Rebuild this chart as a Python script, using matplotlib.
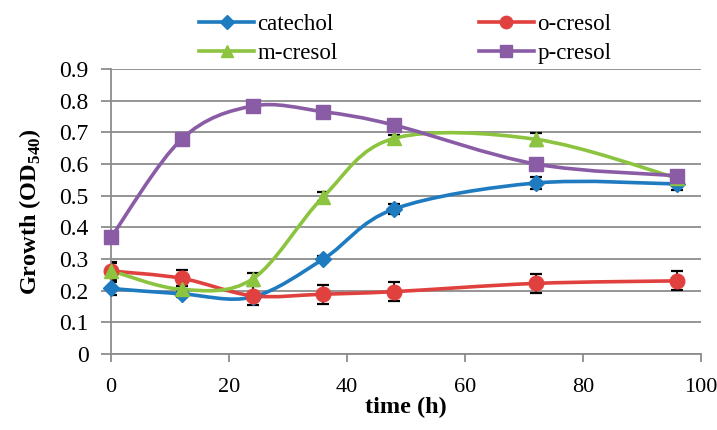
import matplotlib
matplotlib.use("Agg")
import matplotlib.pyplot as plt
from matplotlib.path import Path
from matplotlib.patches import PathPatch
from matplotlib.lines import Line2D
import numpy as np

plt.rcParams['font.family'] = ['Liberation Serif', 'DejaVu Serif']
plt.rcParams['mathtext.fontset'] = 'custom'
plt.rcParams['mathtext.rm'] = 'Liberation Serif'
plt.rcParams['mathtext.bf'] = 'Liberation Serif:bold'

time_h = [0, 12, 24, 36, 48, 72, 96]
series_names = ['catechol', 'o-cresol', 'm-cresol', 'p-cresol']
catechol = [0.207, 0.190, 0.180, 0.300, 0.458, 0.540, 0.537]
o_cresol = [0.262, 0.239, 0.184, 0.189, 0.197, 0.223, 0.231]
m_cresol = [0.263, 0.204, 0.237, 0.497, 0.681, 0.678, 0.555]
p_cresol = [0.368, 0.679, 0.783, 0.765, 0.723, 0.600, 0.563]
catechol_err = [0.02, 0.01, 0.01, 0.01, 0.017, 0.02, 0.02]
o_cresol_err = [0.03, 0.025, 0.03, 0.03, 0.03, 0.03, 0.03]
m_cresol_err = [0.025, 0.01, 0.02, 0.015, 0.01, 0.02, 0.01]
p_cresol_err = [0.01, 0.01, 0.015, 0.01, 0.01, 0.01, 0.01]

values = [catechol, o_cresol, m_cresol, p_cresol]
errors = [catechol_err, o_cresol_err, m_cresol_err, p_cresol_err]
colors = ['#1f7bc0', '#e0413f', '#8cc440', '#8a5ca6']
markers = ['D', 'o', '^', 's']
msizes = [8.5, 10.5, 10, 9.5]


def smooth_path(x, y):
    pts = np.column_stack([x, y]).astype(float)
    n = len(pts)
    verts = [pts[0]]
    codes = [Path.MOVETO]
    for i in range(n - 1):
        p0 = pts[i - 1] if i > 0 else pts[i]
        p1 = pts[i]
        p2 = pts[i + 1]
        p3 = pts[i + 2] if i + 2 < n else pts[i + 1]
        c1 = p1 + (p2 - p0) / 6.0
        c2 = p2 - (p3 - p1) / 6.0
        verts += [c1, c2, p2]
        codes += [Path.CURVE4] * 3
    return Path(verts, codes)


fig = plt.figure(figsize=(7.17, 4.30), dpi=100)
ax = fig.add_axes([0.1548, 0.1767, 0.8229, 0.6628])

grid_c = '#8c8c8c'
ax.set_xlim(0, 100)
ax.set_ylim(0, 0.9)
ax.set_yticks(np.arange(0, 0.91, 0.1))
ax.set_yticklabels(['0'] + ['%.1f' % v for v in np.arange(0.1, 0.91, 0.1)])
ax.set_xticks([0, 20, 40, 60, 80, 100])
ax.yaxis.grid(True, color=grid_c, linewidth=1.3)
ax.set_axisbelow(True)
for s in ['top', 'right']:
    ax.spines[s].set_visible(False)
for s in ['left', 'bottom']:
    ax.spines[s].set_color(grid_c)
    ax.spines[s].set_linewidth(1.3)
ax.tick_params(axis='both', colors=grid_c, width=1.3, length=6, direction='out',
               labelsize=17, labelcolor='black')
ax.tick_params(axis='y', length=7, pad=9)
ax.tick_params(axis='x', pad=11, labelsize=16)

handles = []
for vals, err, c, m, ms, name in zip(values, errors, colors, markers, msizes, series_names):
    ax.errorbar(time_h, vals, yerr=err, fmt='none', ecolor='black', elinewidth=1.3,
                capsize=4, capthick=1.6, zorder=2)
    patch = PathPatch(smooth_path(time_h, vals), facecolor='none', edgecolor=c,
                      linewidth=2.6, zorder=3, clip_on=False)
    ax.add_patch(patch)
    ax.plot(time_h, vals, linestyle='none', marker=m, markersize=ms, color=c,
            markeredgecolor=c, zorder=4, clip_on=False)
    handles.append(Line2D([0], [0], color=c, linewidth=2.6, marker=m, markersize=ms * 0.85))

ax.set_xlabel('time (h)', fontsize=17.5, fontweight='bold', labelpad=0)
ax.set_ylabel(r'Growth (OD$_{\mathbf{540}}$)', fontsize=17.5, fontweight='bold', labelpad=12)

order = [0, 2, 1, 3]
fig.legend([handles[i] for i in order], [series_names[i] for i in order],
           loc='upper center', bbox_to_anchor=(0.565, 1.016), ncol=2, frameon=False,
           fontsize=16.5, handlelength=2.4, handletextpad=0.15, columnspacing=6.15,
           labelspacing=0.35)

fig.savefig('out.png', dpi=100)
